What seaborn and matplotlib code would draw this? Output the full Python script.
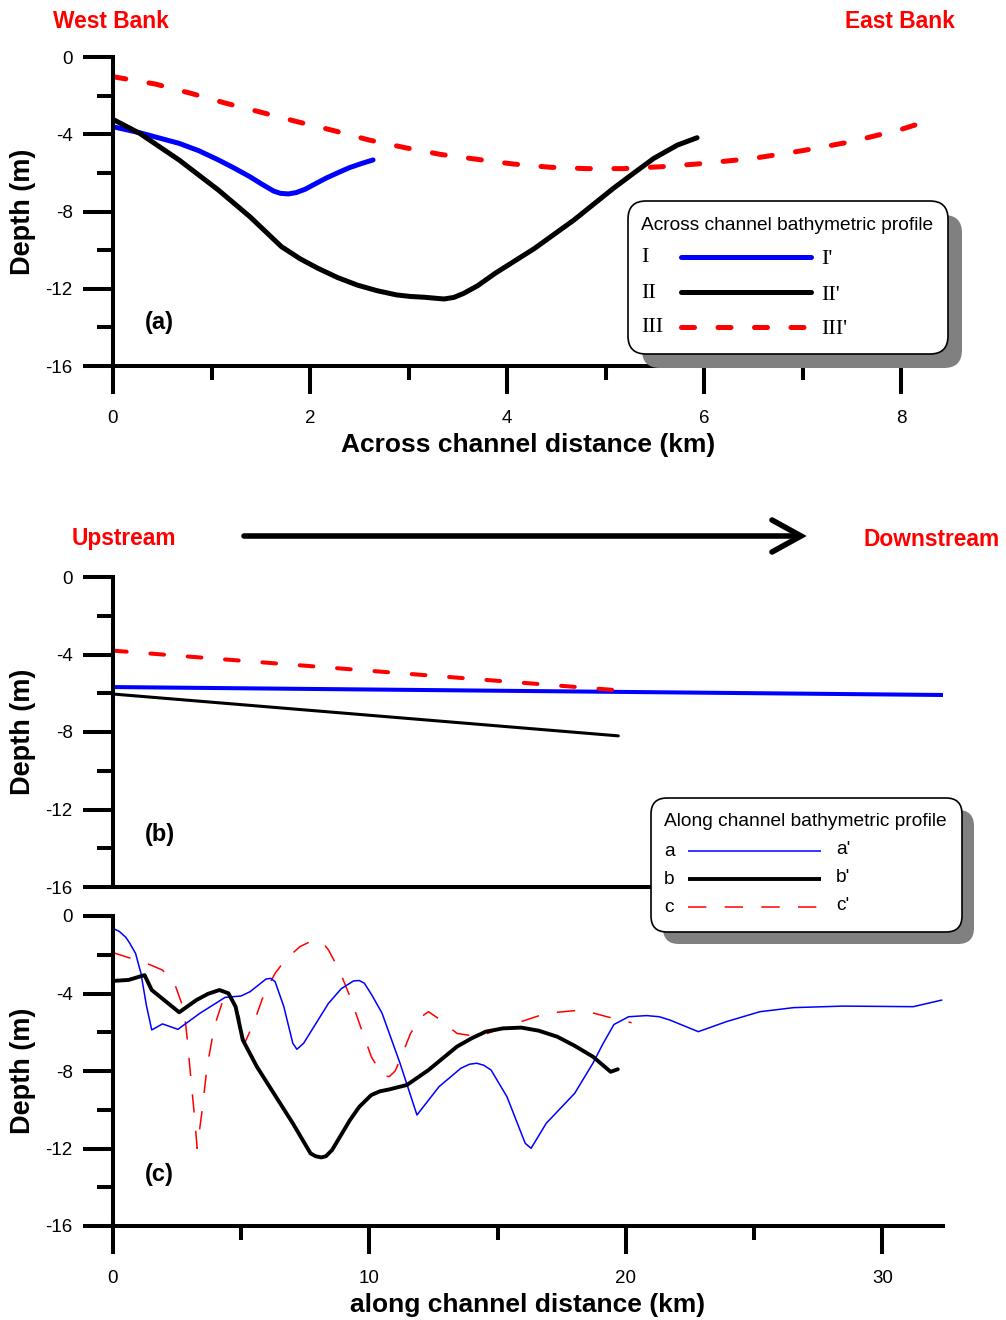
import matplotlib
matplotlib.use("Agg")
import matplotlib.pyplot as plt
from matplotlib.patches import FancyBboxPatch
import seaborn as sns

# ---------------- data ----------------
# (a) across-channel bathymetric profiles: distance (km), depth (m)
across_I_km = [0, 0.27, 0.67, 0.87, 1.07, 1.23, 1.39, 1.51, 1.63, 1.70, 1.78, 1.86, 1.95,
               2.06, 2.16, 2.28, 2.40, 2.52, 2.64]
across_I_depth = [-3.61, -3.92, -4.47, -4.85, -5.33, -5.75, -6.20, -6.58, -6.94, -7.06, -7.09,
                  -7.02, -6.85, -6.55, -6.28, -6.00, -5.73, -5.52, -5.33]

across_II_km = [0, 0.27, 0.67, 1.07, 1.39, 1.71, 1.90, 2.08, 2.28, 2.48, 2.68, 2.88, 3.02, 3.16,
                3.36, 3.46, 3.56, 3.70, 3.88, 4.28, 4.68, 5.08, 5.29, 5.49, 5.73, 5.93]
across_II_depth = [-3.23, -3.95, -5.33, -6.89, -8.27, -9.82, -10.45, -10.94, -11.42, -11.81,
                   -12.10, -12.32, -12.40, -12.44, -12.53, -12.45, -12.24, -11.85, -11.20, -9.91,
                   -8.44, -6.80, -6.00, -5.25, -4.56, -4.18]

across_III_km = [0, 0.43, 0.79, 1.15, 1.51, 1.87, 2.24, 2.60, 2.96, 3.32, 3.70, 4.06, 4.44,
                 4.80, 5.18, 5.57, 5.93, 6.5, 7.0, 7.5, 8.0, 8.22]
across_III_depth = [-1.02, -1.40, -1.88, -2.40, -2.87, -3.35, -3.81, -4.30, -4.69, -5.04, -5.30,
                    -5.54, -5.71, -5.78, -5.78, -5.68, -5.54, -5.25, -4.85, -4.38, -3.75, -3.40]

# (b) along-channel profiles, straight-line fits
fit_a_km = [0, 32.36]
fit_a_depth = [-5.68, -6.09]
fit_b_km = [0, 19.7]
fit_b_depth = [-6.04, -8.2]
fit_c_km = [0, 20.2]
fit_c_depth = [-3.80, -5.90]

# (c) along-channel profiles, surveyed
along_a_km = [0, 0.25, 0.5, 0.65, 0.88, 1.09, 1.3, 1.51, 1.93, 2.53, 3.39, 4.37, 4.99, 5.34,
              5.97, 6.15, 6.32, 6.66, 7.01, 7.17, 7.43, 8.40, 8.9, 9.38, 9.6, 9.80, 10.1, 10.49,
              11.19, 11.85, 12.71, 13.56, 13.9, 14.18, 14.45, 14.74, 15.36, 16.07, 16.30, 16.89,
              18.0, 18.71, 19.1, 19.53, 20.1, 20.8, 21.3, 21.71, 22.82, 23.92, 25.22, 26.53,
              28.47, 31.2, 32.31]
along_a_depth = [-0.64, -0.80, -1.10, -1.40, -1.93, -2.96, -4.6, -5.88, -5.57, -5.85, -5.02,
                 -4.20, -4.13, -3.91, -3.25, -3.22, -3.39, -4.68, -6.57, -6.88, -6.57, -4.51,
                 -3.75, -3.35, -3.33, -3.47, -4.10, -5.02, -7.60, -10.27, -8.81, -7.86, -7.65,
                 -7.60, -7.70, -7.95, -9.33, -11.73, -11.99, -10.70, -9.15, -7.60, -6.60, -5.60,
                 -5.20, -5.14, -5.20, -5.37, -5.97, -5.45, -4.94, -4.73, -4.65, -4.68, -4.34]

along_b_km = [0, 0.61, 1.23, 1.51, 2.58, 3.25, 3.70, 4.15, 4.50, 4.78, 5.06, 5.61, 6.31, 7.01,
              7.70, 7.90, 8.12, 8.30, 8.54, 9.24, 9.60, 10.07, 10.40, 10.77, 11.46, 12.3, 13.41,
              14.0, 14.53, 15.2, 15.92, 16.6, 17.32, 18.0, 18.71, 19.40, 19.68]
along_b_depth = [-3.35, -3.30, -3.05, -3.82, -4.97, -4.34, -4.02, -3.82, -3.99, -4.68, -6.40,
                 -7.78, -9.24, -10.70, -12.25, -12.40, -12.46, -12.40, -12.08, -10.53, -9.85,
                 -9.24, -9.05, -8.95, -8.72, -7.95, -6.74, -6.30, -5.97, -5.80, -5.76, -5.92,
                 -6.23, -6.70, -7.26, -8.04, -7.91]

along_c_km = [0, 1.30, 1.93, 2.42, 2.77, 2.90, 3.04, 3.18, 3.28, 3.46, 3.67, 3.95, 4.29, 4.57,
              4.92, 5.13, 5.48, 5.90, 6.32, 6.73, 7.29, 7.60, 7.99, 8.20, 8.40, 8.82, 9.24, 9.65,
              10.07, 10.49, 10.77, 11.00, 11.19, 11.60, 12.02, 12.30, 12.86, 13.41, 14.25, 15.50,
              16.90, 18.29, 19.26, 20.22]
along_c_depth = [-1.89, -2.44, -2.79, -3.56, -4.85, -6.40, -8.46, -10.36, -11.99, -10.18, -7.78,
                 -5.71, -4.34, -4.16, -5.20, -6.57, -5.54, -3.99, -2.96, -2.24, -1.58, -1.38,
                 -1.27, -1.42, -1.75, -2.79, -4.16, -5.71, -7.26, -8.21, -8.29, -8.00, -7.43,
                 -6.06, -5.20, -4.94, -5.45, -6.06, -6.23, -5.63, -5.02, -4.85, -5.20, -5.51]

depth_ticks = [0, -4, -8, -12, -16]
depth_minor = [-2, -6, -10, -14]
across_ticks = [0, 2, 4, 6, 8]
across_minor = [1, 3, 5, 7]
along_ticks = [0, 10, 20, 30]
along_minor = [5, 15, 25]

# ---------------- style ----------------
sns.set_theme(style="white", rc={
    "axes.edgecolor": "black", "axes.labelcolor": "black", "text.color": "black",
    "xtick.color": "black", "ytick.color": "black", "axes.unicode_minus": False,
})
plt.rcParams["font.family"] = ["Liberation Sans", "DejaVu Sans"]

W, H = 1006, 1320
fig = plt.figure(figsize=(W / 100, H / 100), dpi=100)
fig.patch.set_facecolor("white")


def px_axes(x0, x1, ytop, ybot):
    return fig.add_axes([x0 / W, 1 - ybot / H, (x1 - x0) / W, (ybot - ytop) / H])


ax_a = px_axes(113, 943, 57, 366)
ax_b = px_axes(113, 943, 577, 887)
ax_c = px_axes(113, 943, 916, 1226)

SPINE = 2.9
xlabel_offset = {"Across channel distance (km)": 445 - 366,
                 "along channel distance (km)": 1305 - 1226}


def frame(ax, xmax, xmaj, xmin, xlabel):
    ax.set_ylim(-16, 0)
    ax.set_xlim(0, xmax)
    for s in ("top", "right"):
        ax.spines[s].set_visible(False)
    for s in ("left", "bottom"):
        ax.spines[s].set_linewidth(SPINE)
        ax.spines[s].set_capstyle("projecting")
    ax.set_yticks(depth_ticks)
    ax.set_yticklabels([str(v) for v in depth_ticks])
    ax.set_yticks(depth_minor, minor=True)
    ax.tick_params(axis="y", which="major", direction="out", length=21.5, width=SPINE,
                   labelsize=13.5, pad=7.5, left=True)
    ax.tick_params(axis="y", which="minor", direction="out", length=11.5, width=SPINE, left=True)
    ax.set_ylabel("Depth (m)", fontsize=19.5, fontweight="bold", va="center", ha="center")
    ax.yaxis.set_label_coords((23 - 113) / 830.0, 0.5)
    if xmaj is None:
        ax.tick_params(axis="x", which="both", bottom=False, labelbottom=False)
    else:
        ax.set_xticks(xmaj)
        ax.set_xticklabels([str(v) for v in xmaj])
        ax.set_xticks(xmin, minor=True)
        ax.tick_params(axis="x", which="major", direction="out", length=20, width=SPINE,
                       labelsize=13.5, pad=11.5, bottom=True)
        ax.tick_params(axis="x", which="minor", direction="out", length=10, width=SPINE,
                       bottom=True)
        ax.set_xlabel(xlabel, fontsize=19, fontweight="bold", va="center")
        ax.xaxis.set_label_coords(0.5, -xlabel_offset[xlabel] / 309.0)
    ax.set_facecolor("none")


def trace(ax, x, y, color, lw, dash=None, caps="round"):
    kw = dict(color=color, linewidth=lw, solid_capstyle=caps, solid_joinstyle="round")
    if dash is not None:
        kw.update(linestyle=(0, dash), dash_capstyle=caps)
    sns.lineplot(x=x, y=y, ax=ax, estimator=None, sort=False, errorbar=None, **kw)


# (a) across channel
trace(ax_a, across_III_km, across_III_depth, "#ff0000", 3.6, dash=(2.6, 4.7))
trace(ax_a, across_I_km, across_I_depth, "#0000ff", 3.6)
trace(ax_a, across_II_km, across_II_depth, "black", 3.6)
frame(ax_a, 830 / 98.5, across_ticks, across_minor, "Across channel distance (km)")

# (b) along channel fits
trace(ax_b, fit_a_km, fit_a_depth, "#0000ff", 2.9)
trace(ax_b, fit_b_km, fit_b_depth, "black", 2.2)
trace(ax_b, fit_c_km, fit_c_depth, "#ff0000", 2.9, dash=(3.4, 5.9))
frame(ax_b, 830 / 25.65, None, None, None)

# (c) along channel surveyed
trace(ax_c, along_c_km, along_c_depth, "#ff0000", 1.1, dash=(12, 12), caps="butt")
trace(ax_c, along_a_km, along_a_depth, "#0000ff", 1.1)
trace(ax_c, along_b_km, along_b_depth, "black", 2.8)
frame(ax_c, 830 / 25.65, along_ticks, along_minor, "along channel distance (km)")

# ---------------- annotation layer (pixel coordinates) ----------------
ov = fig.add_axes([0, 0, 1, 1], zorder=10)
ov.set_xlim(0, W)
ov.set_ylim(H, 0)
ov.axis("off")
ov.patch.set_alpha(0)

RED = "#ff0000"
hdr = dict(color=RED, fontsize=16.4, fontweight="bold", va="center")
ov.text(53, 21, "West Bank", ha="left", **hdr)
ov.text(955, 21, "East Bank", ha="right", **hdr)
ov.text(72, 539, "Upstream", ha="left", **hdr)
ov.text(1000, 539, "Downstream", ha="right", **hdr)

# flow direction arrow
ov.plot([244, 798], [536, 536], color="black", lw=4, solid_capstyle="round")
ov.plot([772, 801, 772], [520, 536, 552], color="black", lw=4,
        solid_capstyle="round", solid_joinstyle="miter")

for label, y in (("(a)", 323), ("(b)", 835), ("(c)", 1174)):
    ov.text(145, y, label, fontsize=17, fontweight="bold", ha="left", va="center")


def key_box(x0, y0, x1, y1, off, r):
    ov.add_patch(FancyBboxPatch((x0 + off, y0 + off), x1 - x0, y1 - y0,
                                boxstyle=f"round,pad=0,rounding_size={r}",
                                facecolor="#808080", edgecolor="none"))
    ov.add_patch(FancyBboxPatch((x0, y0), x1 - x0, y1 - y0,
                                boxstyle=f"round,pad=0,rounding_size={r}",
                                facecolor="white", edgecolor="black", linewidth=1.2))


# key for (a)
key_box(628, 201, 948, 354, 14, 18)
ov.text(641, 226, "Across channel bathymetric profile", fontsize=13.8, ha="left", va="center")
serif = ["Liberation Serif", "DejaVu Serif"]
key_a = [("I", "I'", "#0000ff", None, 257),
         ("II", "II'", "black", None, 292),
         ("III", "III'", RED, (2.6, 4.7), 327)]
for left, right, col, dash, y in key_a:
    kw = dict(color=col, lw=3.6, solid_capstyle="round")
    if dash:
        kw.update(linestyle=(0, dash), dash_capstyle="round")
    ov.plot([681, 811], [y, y], **kw)
    ov.text(641, y + 1, left, family=serif, fontsize=16, ha="left", va="center")
    ov.text(821, y + 3, right, family=serif, fontsize=16, ha="left", va="center")

# key for (b)/(c)
key_box(651, 798, 962, 932, 12, 16)
ov.text(664, 822, "Along channel bathymetric profile", fontsize=13.8, ha="left", va="center")
key_b = [("a", "a'", "#0000ff", 1.1, None, 851),
         ("b", "b'", "black", 2.8, None, 879),
         ("c", "c'", RED, 1.1, (12, 12), 907)]
for left, right, col, lw, dash, y in key_b:
    kw = dict(color=col, lw=lw, solid_capstyle="butt")
    if dash:
        kw.update(linestyle=(0, dash))
    ov.plot([688, 821], [y, y], **kw)
    ov.text(664, y + 1, left, fontsize=13.8, ha="left", va="center")
    ov.text(836, y - 1, right, fontsize=13.8, ha="left", va="center")

fig.savefig("out.png", dpi=100, facecolor="white")
